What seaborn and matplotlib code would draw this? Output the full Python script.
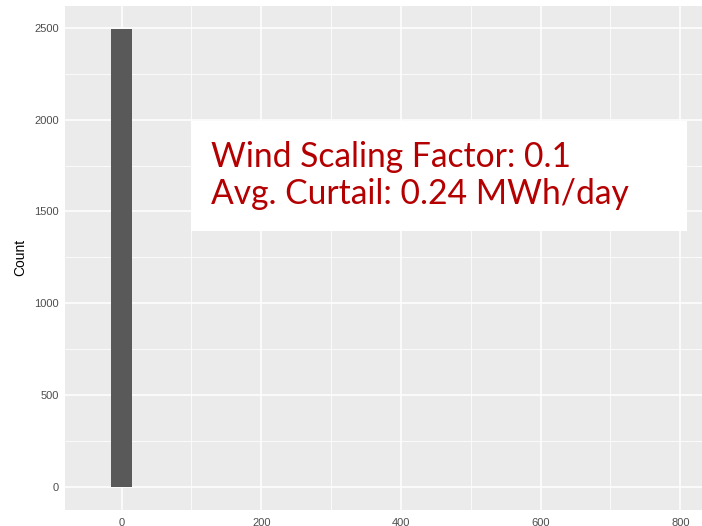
import numpy as np
import pandas as pd
import matplotlib
matplotlib.use("Agg")
import matplotlib.pyplot as plt
import seaborn as sns
from matplotlib.patches import Rectangle

# Data: curtailment (MWh/day) histogram, 30-ish unit bins
bin_centers = [0.0, 29.5, 59.0, 88.5, 118.0, 147.5, 177.0, 206.5, 236.0, 265.5,
               295.0, 324.5, 354.0, 383.5, 413.0, 442.5, 472.0, 501.5, 531.0,
               560.5, 590.0, 619.5, 649.0, 678.5, 708.0, 737.5, 767.0, 796.5]
bin_counts = [2495, 0, 0, 0, 0, 0, 0, 0, 0, 0,
              0, 0, 0, 0, 0, 0, 0, 0, 0,
              0, 0, 0, 0, 0, 0, 0, 0, 0]
x_ticks = [0, 200, 400, 600, 800]
y_ticks = [0, 500, 1000, 1500, 2000, 2500]
note_lines = ["Wind Scaling Factor: 0.1", "Avg. Curtail: 0.24 MWh/day"]

df = pd.DataFrame({"curtail": bin_centers, "count": bin_counts})

sns.set_theme(style="darkgrid", rc={
    "axes.facecolor": "#EBEBEB",
    "grid.color": "white",
    "axes.edgecolor": "#EBEBEB",
})
plt.rcParams['font.family'] = ['Liberation Sans', 'DejaVu Sans']

fig = plt.figure(figsize=(7.02, 5.26), dpi=100)
ax = fig.add_axes([64.5 / 702, 16 / 526, 637.5 / 702, 504.3 / 526])

bw = 29.5
sns.histplot(data=df, x="curtail", weights="count", binwidth=bw,
             binrange=(bin_centers[0] - bw / 2, bin_centers[-1] + bw / 2),
             color="#595959", alpha=1, linewidth=0, ax=ax)

ax.set_xlim(-81.6, 831)
ax.set_ylim(-124.75, 2619.75)
ax.set_xticks(x_ticks)
ax.set_yticks(y_ticks)
ax.set_xticks([100, 300, 500, 700], minor=True)
ax.set_yticks([250, 750, 1250, 1750, 2250], minor=True)
ax.grid(which="major", color="white", linewidth=1.1)
ax.grid(which="minor", color="white", linewidth=0.55)
ax.set_axisbelow(True)
for s in ax.spines.values():
    s.set_visible(False)
ax.tick_params(which="major", length=2.75, width=0.8, color="#333333",
               labelsize=8, labelcolor="#4D4D4D", pad=1.5)
ax.tick_params(axis="x", which="major", pad=2.8)
ax.tick_params(which="minor", length=0)
ax.set_xlabel("")
ax.set_ylabel("Count", fontsize=10, color="black", labelpad=5)

# white annotation panel with red text
fig.patches.append(Rectangle((191 / 702, 1 - 231 / 526), (687 - 191) / 702, 110 / 526,
                             transform=fig.transFigure, facecolor="white",
                             edgecolor="none", zorder=5))
for i, line in enumerate(note_lines):
    fig.text(211 / 702, 1 - (167 + 37 * i) / 526, line, color="#B40000",
             fontsize=24.2, family=["Lato", "DejaVu Sans"], ha="left",
             va="baseline", zorder=6)

fig.savefig("out.png", dpi=100)
